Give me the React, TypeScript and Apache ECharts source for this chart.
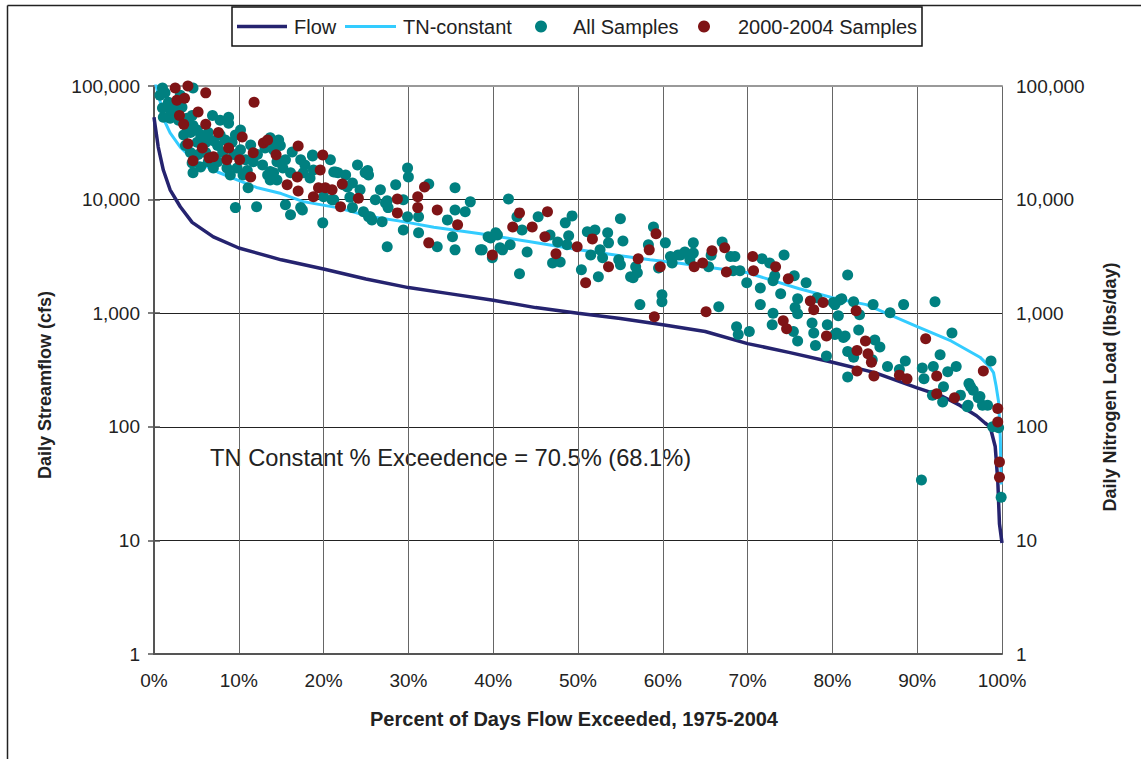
import { useEffect, useRef } from 'react';
import * as echarts from 'echarts';

const FONT = '"Liberation Sans", Arial, sans-serif';

const xTickLabels = ['0%', '10%', '20%', '30%', '40%', '50%', '60%', '70%', '80%', '90%', '100%'];
const yTickValues = [1, 10, 100, 1000, 10000, 100000];

const flowPct = [0, 0.15, 0.5, 1.1, 1.9, 3.1, 4.5, 7, 10, 15, 20, 25, 30, 35, 40, 45, 50, 55, 60, 65, 70, 75, 80, 85, 90, 93, 95, 97, 98, 98.6, 99.2, 99.5, 99.7, 100];
const flowVal = [53000, 44000, 29000, 18200, 12200, 8650, 6300, 4700, 3750, 2950, 2450, 2000, 1680, 1480, 1300, 1120, 1000, 900, 790, 690, 540, 450, 370, 300, 220, 185, 155, 125, 108, 100, 67, 34, 14, 9.5];

const tnPct = [0, 0.15, 0.4, 0.74, 1.3, 1.9, 3.1, 4.3, 5.8, 7.5, 9.8, 12.2, 15, 17.6, 21.6, 25.5, 29.4, 33, 38.5, 44, 50.3, 55, 58.5, 62, 66, 70, 76, 80, 84, 87, 90, 94, 97.4, 98.5, 99, 99.3, 99.6, 99.8, 99.9];
const tnVal = [110000, 108000, 90000, 72300, 48200, 38600, 29000, 23700, 20200, 17500, 14900, 12700, 11300, 9600, 8500, 7100, 6400, 5700, 5000, 4300, 3600, 3200, 2950, 2750, 2500, 2270, 1650, 1370, 1190, 950, 760, 570, 410, 340, 300, 230, 165, 80, 31];

const allSamples: [number, number][] = [
  [1.0,96000],[0.7,83000],[1.3,87000],[1.7,72000],[1.0,64000],[1.1,53000],[1.9,62000],[2.5,65000],[1.9,52000],[3.3,65000],[3.9,52000],[4.5,55000],[4.6,45000],[3.9,43000],[4.3,39000],[5.1,41000],[5.5,37000],[6.4,39000],[7.0,33000],[6.1,32000],[5.1,32000],[4.3,26000],[5.2,25000],[6.1,26000],[7.5,30000],[8.1,26000],[8.8,53000],[8.8,47000],[9.2,32000],[9.4,25000],[8.6,19000],[9.8,19000],[9.0,16500],[10.5,16500],[11.0,18000],[11.7,21500],[12.2,25000],[13.1,28500],[13.7,32000],[14.7,33500],[14.5,21500],[13.4,16500],[14.1,15500],[11.1,12700],[4.6,17200],[5.5,19400],[4.5,21000],[9.6,8500],[12.1,8650],[7.5,21500],[6.4,21500],[7.0,19000],
  [14.9,30000],[13.7,35000],[14.1,27400],[18.7,24200],[18.8,18200],[15.2,19000],[14.1,17200],[14.5,14900],[16.1,17200],[17.6,17200],[18.4,15500],[21.2,17500],[21.7,17200],[24.0,20200],[25.2,18000],[25.3,16500],[29.9,19000],[30.0,15800],[24.3,12200],[23.1,10500],[15.5,9000],[17.3,8500],[16.1,7350],[19.9,6240],[21.2,9950],[23.4,8500],[24.7,7800],[25.5,7050],[26.1,9950],[26.9,6370],[27.3,9350],[27.6,8500],[29.4,9950],[29.4,5400],[29.9,7050],[27.5,3840],[31.2,5100],[31.2,7050],[13.7,17700],[13.7,14900],[20.0,10600],[22.8,12900],[21.0,9950],
  [18.7,24700],[24.9,17200],[21.4,17500],[22.3,13500],[27.5,9750],[32.4,13700],[35.5,12700],[37.3,9550],[35.5,8100],[36.7,7800],[34.6,6630],[35.2,4700],[33.4,3840],[35.5,3610],[38.5,3610],[25.3,7050],[39.7,4600],[40.5,4890],[39.9,3070],[40.8,3760],[17.5,8100],[25.7,6630],
  [41.8,10100],[42.8,7050],[45.3,7050],[43.4,5400],[40.3,5100],[39.4,4700],[38.7,3610],[41.1,3610],[42.0,4000],[44.0,3460],[43.1,2220],[47.0,2770],[47.9,2820],[46.7,4890],[47.6,4240],[48.5,6240],[49.3,7190],[48.9,4800],[48.7,4000],[51.1,5200],[52.0,5400],[53.5,5100],[53.6,4160],[51.5,3260],[52.6,3610],[52.9,3070],[55.0,6770],[55.3,4330],[54.8,2950],[55.0,2670],[50.4,2410],[52.4,2090],[56.2,2090],[57.0,2270],[56.8,2560],[57.3,1190],[59.9,1450],[59.9,1260],[58.3,4000],[58.9,5750],[60.3,4160],[61.1,3070],[61.1,2770],[62.1,3260],[56.5,2050],
  [59.5,2500],[60.9,3150],[61.8,3260],[62.6,3460],[63.6,4160],[63.6,3380],[63.2,2950],[65.4,2560],[65.7,3230],[67.0,4240],[68.0,3150],[68.5,3150],[68.3,2360],[69.1,2360],[69.9,1850],[71.7,3010],[72.6,2770],[73.2,2140],[73.0,1930],[74.3,3260],[75.5,2140],[76.9,1850],[71.5,1670],[73.9,1480],[75.9,1340],[75.6,1120],[75.9,990],[71.5,1190],[66.6,1140],[68.7,760],[68.9,650],[70.2,690],[73.0,1000],[72.9,790],[75.4,690],[75.9,570],[77.6,820],[77.8,670],[78.0,520],[79.4,790],[79.3,420],[80.3,1190],[80.9,1310],[80.7,950],[80.3,650],[81.5,630],[81.8,2170],[81.8,460],[81.8,275],
  [78.2,1370],[80.1,1240],[81.1,1340],[82.5,1260],[83.2,970],[84.8,1190],[86.8,1010],[88.4,1190],[92.1,1260],[80.5,670],[81.3,610],[83.1,710],[82.5,410],[85.0,580],[85.6,505],[84.7,390],[86.5,340],[88.6,380],[87.9,320],[90.6,330],[90.8,265],[91.9,340],[92.7,430],[93.6,305],[93.1,225],[94.6,340],[91.8,190],[93.0,165],[94.1,670],[96.1,240],[96.6,210],[95.1,190],[96.0,155],[97.2,180],[97.7,155],[98.3,155],[98.7,380],[98.9,100],[99.6,98],[96.3,225],[97.4,185],[95.9,150],[90.5,34],[99.9,24],
  [2.9,50000],[3.5,37000],[6.1,35600],[7.8,37000],[8.4,33500],[10.2,27400],[10.8,22400],[11.4,30300],[12.8,20200],[15.5,22400],[16.3,26300],[17.3,22400],[17.8,20200],[20.8,22400],[22.6,16500],[23.4,14000],[26.7,12200],[28.5,13500],[9.6,37000],[10.2,41000],[6.9,55000],[3.1,83000],[2.6,55000],[7.2,22400],[7.8,50000],[3.7,30000],[4.6,96000]
];

const samples2000to2004: [number, number][] = [
  [2.5,96000],[4.0,100000],[6.1,87000],[2.7,75000],[3.6,78000],[3.0,55000],[3.5,46000],[5.2,59000],[6.1,46000],[7.6,39000],[11.8,72000],[4.0,31000],[5.7,28500],[4.6,22000],[6.5,23300],[7.0,23800],[8.8,28500],[8.6,22400],[10.1,22400],[10.4,35600],[11.7,25800],[12.9,31500],[13.4,33500],[14.4,24800],[11.4,15800],
  [17.0,29700],[19.9,24700],[19.6,18200],[15.7,13500],[16.9,15800],[17.0,11900],[19.4,12700],[20.2,12700],[21.0,12200],[22.2,13700],[18.8,10600],[22.0,8650],[24.1,10300],[28.7,10100],[28.7,7640],[31.1,10600],[31.1,8500],
  [31.9,12900],[33.4,8100],[35.8,6000],[32.4,4160],[39.9,3260],
  [43.1,7640],[46.4,7800],[42.3,5750],[44.6,5750],[46.1,4700],[47.4,3330],[49.9,3840],[51.7,4510],[53.6,2560],[50.9,1850],[57.1,3010],[58.4,3610],[59.2,5000],[59.7,2560],[59.0,930],
  [65.8,3540],[67.3,3760],[64.7,2770],[63.7,2560],[67.5,2310],[70.6,3150],[70.7,2360],[73.3,2560],[74.8,2010],[65.1,1030],[77.4,1280],[78.9,1240],[77.8,1070],[74.2,860],[74.6,730],[79.3,630],
  [82.8,1050],[83.9,570],[82.9,470],[84.2,440],[84.6,370],[82.9,310],[84.9,280],[87.9,285],[88.8,265],[91.0,595],[92.3,280],[92.3,195],[94.4,180],[97.8,310],[99.5,145],[99.5,110],[99.7,49],[99.7,36]
];

const seriesNames = ['Flow', 'TN-constant', 'All Samples', '2000-2004 Samples'];
const annotation = 'TN Constant % Exceedence = 70.5% (68.1%)';
const xTitle = 'Percent of Days Flow Exceeded, 1975-2004';
const yLeftTitle = 'Daily Streamflow (cfs)';
const yRightTitle = 'Daily Nitrogen Load (lbs/day)';

const NAVY = '#25236f';
const CYAN = '#33ccff';
const TEAL = '#008080';
const RED = '#7f1416';

function yLabel(v: number) {
  if (!yTickValues.includes(Math.round(v))) return '';
  return Math.round(v).toLocaleString('en-US');
}

function legendGraphics() {
  const cy = 26.5;
  const txt = (x: number, text: string) => ({
    type: 'text', x, y: cy + 0.5,
    style: { text, font: `20px ${FONT}`, fill: '#222', align: 'left', verticalAlign: 'middle' },
  });
  return {
    type: 'group',
    children: [
      { type: 'rect', shape: { x: 232, y: 7, width: 690, height: 39 }, style: { fill: '#fff', stroke: '#111', lineWidth: 1.5 } },
      { type: 'line', shape: { x1: 237, y1: cy, x2: 287, y2: cy }, style: { stroke: NAVY, lineWidth: 3.5 } },
      txt(294, seriesNames[0]),
      { type: 'line', shape: { x1: 345, y1: cy, x2: 396, y2: cy }, style: { stroke: CYAN, lineWidth: 3 } },
      txt(403, seriesNames[1]),
      { type: 'circle', shape: { cx: 541, cy, r: 6 }, style: { fill: TEAL } },
      txt(573, seriesNames[2]),
      { type: 'circle', shape: { cx: 704, cy, r: 6 }, style: { fill: RED } },
      txt(738, seriesNames[3]),
    ],
  };
}

function buildOption() {
  const yAxisBase = {
    type: 'log' as const,
    logBase: 10,
    min: 1,
    max: 100000,
    interval: 1,
    axisLine: { show: true, lineStyle: { color: '#555', width: 2 } },
    axisTick: { show: true, length: 6, lineStyle: { color: '#555', width: 1.5 } },
    minorTick: { show: false },
    axisLabel: { formatter: yLabel, fontSize: 19, color: '#222', fontFamily: FONT, margin: 14 },
  };
  return {
    animation: false,
    backgroundColor: '#fff',
    textStyle: { fontFamily: FONT },
    grid: { left: 154, right: 139, top: 86, bottom: 105, containLabel: false },
    xAxis: [
      {
        type: 'value',
        min: 0,
        max: 100,
        interval: 10,
        axisLine: { show: true, lineStyle: { color: '#555', width: 2 } },
        axisTick: { show: false },
        axisLabel: {
          formatter: (v: number) => xTickLabels[Math.round(v / 10)] ?? '',
          fontSize: 19,
          color: '#222',
          fontFamily: FONT,
          margin: 17,
        },
        splitLine: { show: true, lineStyle: { color: '#666', width: 1 } },
      },
      {
        type: 'value',
        position: 'top',
        min: 0,
        max: 100,
        axisLine: { show: true, lineStyle: { color: '#999', width: 2 } },
        axisTick: { show: false },
        axisLabel: { show: false },
        splitLine: { show: false },
      },
    ],
    yAxis: [
      {
        ...yAxisBase,
        position: 'left',
        splitLine: { show: true, lineStyle: { color: '#222', width: 1 } },
      },
      {
        ...yAxisBase,
        position: 'right',
        splitLine: { show: false },
      },
    ],
    graphic: [
      { type: 'line', shape: { x1: 7.5, y1: 5.5, x2: 1141, y2: 5.5 }, style: { stroke: '#222', lineWidth: 1.5 } },
      { type: 'line', shape: { x1: 7.5, y1: 5.5, x2: 7.5, y2: 759 }, style: { stroke: '#222', lineWidth: 1.5 } },
      legendGraphics(),
      {
        type: 'text', x: 210, y: 458,
        style: { text: annotation, font: `23.7px ${FONT}`, fill: '#222', align: 'left', verticalAlign: 'middle' },
      },
      {
        type: 'text', x: 574, y: 719,
        style: { text: xTitle, font: `bold 20px ${FONT}`, fill: '#222', align: 'center', verticalAlign: 'middle' },
      },
      {
        type: 'text', x: 45, y: 385, rotation: Math.PI / 2,
        style: { text: yLeftTitle, font: `bold 18px ${FONT}`, fill: '#222', align: 'center', verticalAlign: 'middle' },
      },
      {
        type: 'text', x: 1110, y: 387, rotation: Math.PI / 2,
        style: { text: yRightTitle, font: `bold 18px ${FONT}`, fill: '#222', align: 'center', verticalAlign: 'middle' },
      },
    ],
    series: [
      {
        name: seriesNames[0],
        type: 'line',
        data: flowPct.map((p, i) => [p, flowVal[i]]),
        symbol: 'none',
        color: NAVY,
        lineStyle: { color: NAVY, width: 3.5 },
        z: 2,
      },
      {
        name: seriesNames[1],
        type: 'line',
        data: tnPct.map((p, i) => [p, tnVal[i]]),
        symbol: 'none',
        color: CYAN,
        lineStyle: { color: CYAN, width: 3 },
        z: 2,
      },
      {
        name: seriesNames[2],
        type: 'scatter',
        data: allSamples,
        symbol: 'circle',
        symbolSize: 11,
        color: TEAL,
        itemStyle: { color: TEAL, opacity: 1 },
        z: 3,
      },
      {
        name: seriesNames[3],
        type: 'scatter',
        data: samples2000to2004,
        symbol: 'circle',
        symbolSize: 11,
        color: RED,
        itemStyle: { color: RED, opacity: 1 },
        z: 4,
      },
    ],
  };
}

export default function App() {
  const ref = useRef<HTMLDivElement>(null);
  useEffect(() => {
    if (!ref.current) return;
    const chart = echarts.init(ref.current, null, { renderer: 'svg' });
    chart.setOption(buildOption() as any);
    return () => chart.dispose();
  }, []);
  return (
    <div
      ref={ref}
      style={{ position: 'absolute', left: 0, top: 0, width: 1141, height: 759, background: '#fff' }}
    />
  );
}
